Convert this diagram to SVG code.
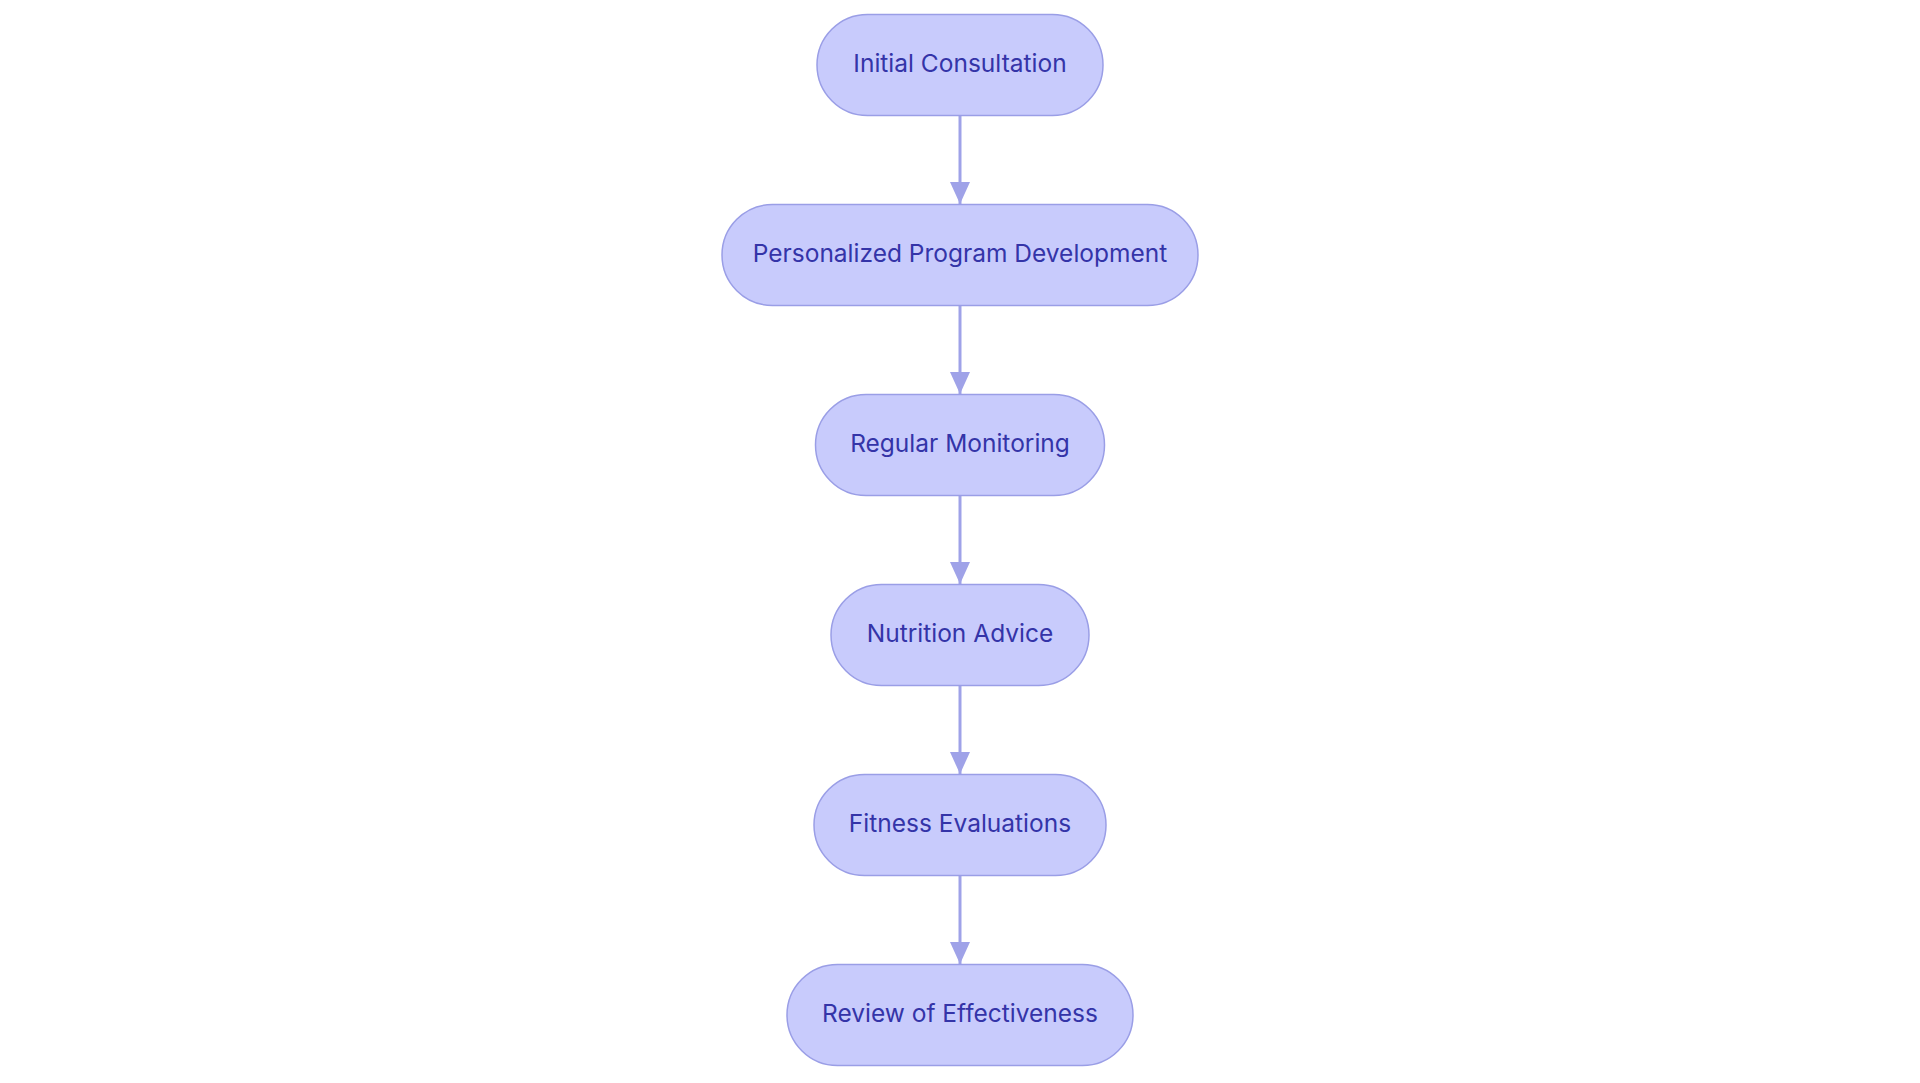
<svg xmlns="http://www.w3.org/2000/svg" width="1920" height="1083" viewBox="0 0 1920 1083">
<style>
.n rect{fill:#c8cbfc;stroke:#9a9ee6;stroke-width:1.5}
.n text{font-family:Inter,"Noto Sans",sans-serif;font-size:24.5px;font-weight:400;fill:#3434a8;text-anchor:middle;dominant-baseline:central}
.e line{stroke:#9fa2e8;stroke-width:3}
</style>
<defs><marker id="a" markerWidth="22" markerHeight="20" refX="22" refY="10" orient="auto" markerUnits="userSpaceOnUse"><path d="M0,0L22,10L0,20Z" fill="#9fa2e8"/></marker></defs>
<rect width="1920" height="1083" fill="#fff"/>
<g class="e">
<line x1="960" y1="115" x2="960" y2="204" marker-end="url(#a)"/>
<line x1="960" y1="305" x2="960" y2="394" marker-end="url(#a)"/>
<line x1="960" y1="495" x2="960" y2="584" marker-end="url(#a)"/>
<line x1="960" y1="685" x2="960" y2="774" marker-end="url(#a)"/>
<line x1="960" y1="875" x2="960" y2="964" marker-end="url(#a)"/>
</g>
<g id="n1" class="n"><rect x="817" y="14.5" width="286" height="101" rx="50.5"/><text x="960" y="63">Initial Consultation</text></g>
<g id="n2" class="n"><rect x="722" y="204.5" width="476" height="101" rx="50.5"/><text x="960" y="253">Personalized Program Development</text></g>
<g id="n3" class="n"><rect x="815.5" y="394.5" width="289" height="101" rx="50.5"/><text x="960" y="443">Regular Monitoring</text></g>
<g id="n4" class="n"><rect x="831" y="584.5" width="258" height="101" rx="50.5"/><text x="960" y="633">Nutrition Advice</text></g>
<g id="n5" class="n"><rect x="814" y="774.5" width="292" height="101" rx="50.5"/><text x="960" y="823">Fitness Evaluations</text></g>
<g id="n6" class="n"><rect x="787" y="964.5" width="346" height="101" rx="50.5"/><text x="960" y="1013">Review of Effectiveness</text></g>
</svg>
